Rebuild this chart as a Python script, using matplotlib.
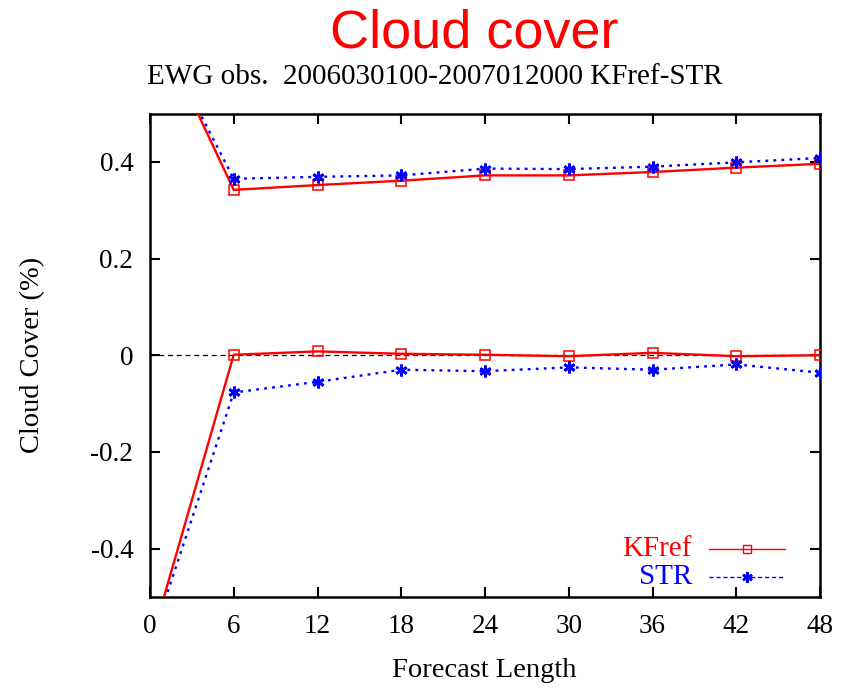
import matplotlib
matplotlib.use("Agg")
import matplotlib.pyplot as plt

# Data
lead = [0, 6, 12, 18, 24, 30, 36, 42, 48]
kfref_upper = [0.71, 0.342, 0.352, 0.361, 0.372, 0.372, 0.379, 0.388, 0.396]
str_upper = [0.70, 0.365, 0.369, 0.372, 0.386, 0.385, 0.390, 0.399, 0.408]
kfref_lower = [-0.60, 0.001, 0.008, 0.003, 0.001, -0.002, 0.005, -0.002, 0.000]
str_lower = [-0.60, -0.077, -0.055, -0.030, -0.033, -0.025, -0.030, -0.019, -0.036]
xticks = [0, 6, 12, 18, 24, 30, 36, 42, 48]
yticks = [-0.4, -0.2, 0, 0.2, 0.4]
ytick_labels = ["-0.4", "-0.2", "0", "0.2", "0.4"]
series_names = ["KFref", "STR"]

serif = ["Liberation Serif", "DejaVu Serif"]
sans = ["Liberation Sans", "DejaVu Sans"]

fig = plt.figure(figsize=(8.46, 6.88), dpi=100)
ax = fig.add_axes([150/846, 1-597/688, 670/846, (597-113.5)/688])

ax.axhline(0, color="black", lw=0.9, ls=(0, (4, 3)), zorder=1)

red = "#ff0000"
blue = "#0000ff"
lkw_r = dict(color=red, lw=1.7, ls="-", marker="s", ms=6.5, mfc="none", mec=red, mew=1.1, zorder=3)
lkw_b = dict(color=blue, lw=1.7, ls=(0, (1.2, 2.2)), marker=(6, 2, 0), ms=8.5, mec=blue, mew=2.0, zorder=4)

ax.plot(lead, kfref_upper, **lkw_r)
ax.plot(lead, str_upper, **lkw_b)
ax.plot(lead, kfref_lower, **lkw_r)
ax.plot(lead, str_lower, **lkw_b)

ax.set_xlim(0, 48)
ax.set_ylim(-0.5, 0.5)
ax.set_xticks(xticks)
ax.set_xticklabels([str(v) for v in xticks], fontfamily=serif, fontsize=19.5)
ax.set_yticks(yticks)
ax.set_yticklabels(ytick_labels, fontfamily=serif, fontsize=19.5)
ax.tick_params(direction="in", length=7, width=1.5, top=True, right=True, pad=12)
for s in ax.spines.values():
    s.set_linewidth(1.8)

ax.set_xlabel("Forecast Length", fontfamily=serif, fontsize=20.5)
ax.xaxis.set_label_coords(0.499, -0.151)
ax.xaxis.label.set_verticalalignment("center")
ax.set_ylabel("Cloud Cover (%)", fontfamily=serif, fontsize=20.5)
ax.yaxis.set_label_coords(-0.1746, 0.5)
ax.yaxis.label.set_verticalalignment("center")

# Legend drawn manually in axes coordinates
leg_rows = [(0.0993, red, dict(ls="-", marker="s", ms=6, mfc="none", mec=red, mew=1.0)),
            (0.0414, blue, dict(ls=(0, (3, 2)), marker=(6, 2, 0), ms=7.5, mec=blue, mew=1.8))]
for name, (yy, c, kw) in zip(series_names, leg_rows):
    ax.text(0.809, yy, name, color=c, fontfamily=serif, fontsize=21, ha="right", va="center",
            transform=ax.transAxes)
    ax.plot([0.834, 0.948], [yy, yy], color=c, lw=1.0, ls=kw["ls"], transform=ax.transAxes,
            clip_on=False)
    mk = {k: v for k, v in kw.items() if k != "ls"}
    ax.plot([0.891], [yy], color=c, ls="none", transform=ax.transAxes, clip_on=False, **mk)

fig.text(474/846, 1-33/688, "Cloud cover", color=red, fontfamily=sans, fontsize=39,
         ha="center", va="center")
fig.text(435/846, 1-77/688, "EWG obs.  2006030100-2007012000 KFref-STR", color="black",
         fontfamily=serif, fontsize=21, ha="center", va="center")

fig.savefig("out.png", dpi=100)
